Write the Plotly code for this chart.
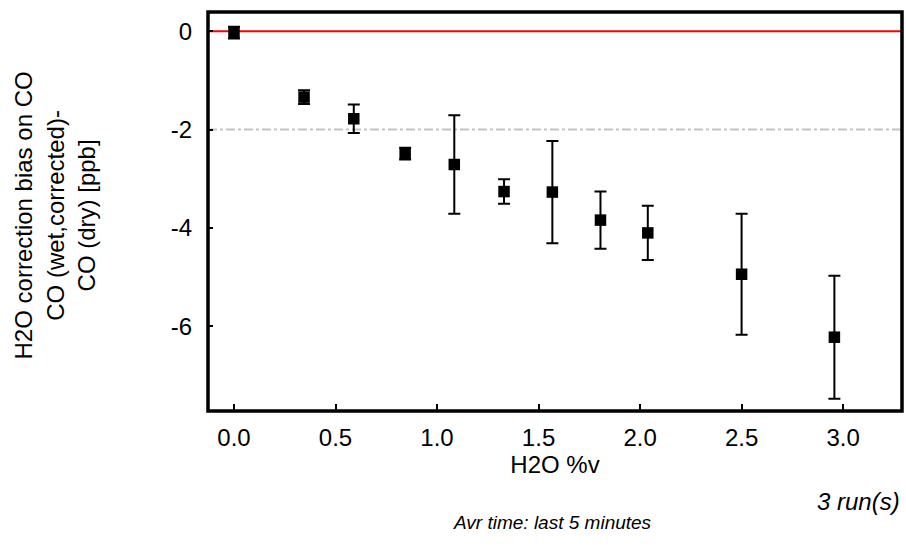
import plotly.graph_objects as go

# H2O level (%v) and the CO bias it causes, with run-to-run spread
h2o_pct = [0.0, 0.345, 0.59, 0.843, 1.085, 1.33, 1.568, 1.805, 2.038, 2.50, 2.957]
co_bias = [-0.03, -1.34, -1.78, -2.49, -2.71, -3.26, -3.27, -3.84, -4.10, -4.94, -6.22]
co_err = [0.12, 0.14, 0.29, 0.12, 1.0, 0.25, 1.04, 0.58, 0.55, 1.23, 1.25]

x_ticks = [0.0, 0.5, 1.0, 1.5, 2.0, 2.5, 3.0]
x_tick_text = ["0.0", "0.5", "1.0", "1.5", "2.0", "2.5", "3.0"]
y_ticks = [0, -2, -4, -6]
y_tick_text = ["0", "-2", "-4", "-6"]

FONT = "Liberation Sans, Arial, sans-serif"

fig = go.Figure()

fig.add_trace(go.Scatter(
    x=h2o_pct,
    y=co_bias,
    mode="markers",
    marker=dict(symbol="square", size=11.5, color="black"),
    error_y=dict(type="data", array=co_err, visible=True,
                 color="black", thickness=2, width=6),
    showlegend=False,
    hoverinfo="x+y",
))

# Zero reference and the -2 ppb limit
fig.add_hline(y=0, line=dict(color="#ff0000", width=2), layer="below")
fig.add_hline(y=-2, line=dict(color="#c4c4c4", width=2, dash="dashdot"), layer="below")

# Plot frame
fig.add_shape(type="rect", xref="paper", yref="paper", x0=0, x1=1, y0=0, y1=1,
              line=dict(color="black", width=3.5), fillcolor="rgba(0,0,0,0)")

fig.update_layout(
    width=906,
    height=547,
    margin=dict(l=208, r=4, t=12, b=136),
    paper_bgcolor="white",
    plot_bgcolor="white",
    font=dict(family=FONT, size=24, color="black"),
    xaxis=dict(
        range=[-0.128, 3.29],
        tickvals=x_ticks,
        ticktext=x_tick_text,
        ticks="inside",
        ticklen=7,
        tickwidth=1.5,
        tickcolor="black",
        showgrid=False,
        zeroline=False,
        showline=False,
        ticklabelstandoff=10,
        tickfont=dict(size=24),
        title=dict(text="H2O %v", font=dict(size=24), standoff=4),
    ),
    yaxis=dict(
        range=[-7.72, 0.39],
        tickvals=y_ticks,
        ticktext=y_tick_text,
        ticks="inside",
        ticklen=5,
        tickwidth=1.5,
        tickcolor="black",
        showgrid=False,
        zeroline=False,
        showline=False,
        ticklabelstandoff=15,
        tickfont=dict(size=24),
    ),
    annotations=[
        dict(
            text="H2O correction bias on CO<br>CO (wet,corrected)-<br>CO (dry) [ppb]",
            xref="paper", yref="paper",
            x=-0.2205, y=0.49,
            xanchor="center", yanchor="middle",
            textangle=-90,
            showarrow=False,
            font=dict(size=24),
        ),
        dict(
            text="<i>3 run(s)</i>",
            xref="paper", yref="paper",
            x=1.0, y=-0.228,
            xanchor="right", yanchor="middle",
            showarrow=False,
            font=dict(size=24),
        ),
        dict(
            text="<i>Avr time: last 5 minutes</i>",
            xref="paper", yref="paper",
            x=0.497, y=-0.28,
            xanchor="center", yanchor="middle",
            showarrow=False,
            font=dict(size=19),
        ),
    ],
)

fig.write_html("out.html")
